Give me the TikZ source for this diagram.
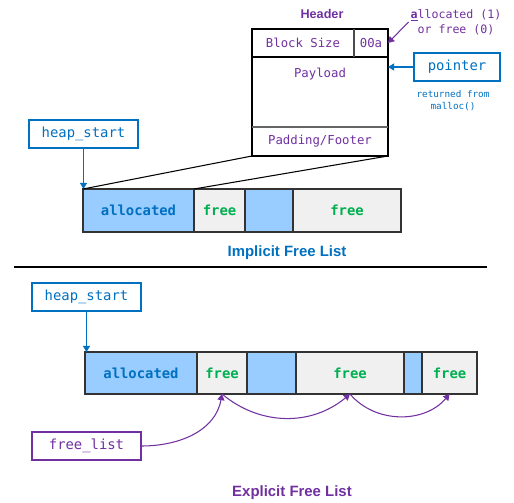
\documentclass[tikz,border=0pt]{standalone}
\usepackage{fontspec}
\setmainfont{Liberation Sans}
\setmonofont{DejaVu Sans Mono}
\usepackage{tikz}
\usetikzlibrary{arrows.meta, positioning}

\definecolor{heappurple}{HTML}{7030A0}
\definecolor{heapblue}{HTML}{0070C0}
\definecolor{usedfill}{HTML}{99CCFF}
\definecolor{freefill}{HTML}{F0F0F0}
\definecolor{freegreen}{HTML}{00B050}

\newcommand{\pxu}{0.02cm}

\tikzset{
  hdrcell/.style={draw=black, line width=0.6pt, inner sep=0pt, outer sep=0pt,
    anchor=north west, font=\ttfamily\fontsize{7}{8}\selectfont, text=heappurple},
  cell/.style={draw=black!80, line width=0.6pt, inner sep=0pt, outer sep=0pt,
    minimum height=43*\pxu, font=\ttfamily\bfseries\fontsize{7.9}{9}\selectfont},
  usedcell/.style={cell, fill=usedfill, text=heapblue},
  freecell/.style={cell, fill=freefill, text=freegreen},
  ptrbox/.style={draw=heapblue, line width=0.6pt, inner sep=0pt,
    minimum width=109*\pxu, minimum height=28*\pxu,
    font=\ttfamily\fontsize{7.9}{9}\selectfont, text=heapblue},
  title/.style={font=\bfseries\fontsize{8.5}{10}\selectfont},
  bluearrow/.style={draw=heapblue, line width=0.6pt, -{Triangle[length=3.5pt, width=4pt]}},
  purplearrow/.style={draw=heappurple, line width=0.6pt, -{Triangle[length=3.5pt, width=4pt]}}
}

\begin{document}
\begin{tikzpicture}[x=0.02cm, y=0.02cm]
\useasboundingbox (0,0) rectangle (514,-503);

% Block layout
\node[font=\bfseries\fontsize{7.2}{8}\selectfont, text=heappurple] (header) at (322,-14) {Header};
\node[hdrcell, minimum width=102*\pxu, minimum height=28*\pxu] (bsize) at (252,-29) {Block Size};
\node[hdrcell, minimum width=34*\pxu, minimum height=28*\pxu] (flag) at (bsize.north east) {00a};
\node[hdrcell, minimum width=136*\pxu, minimum height=70*\pxu,
  label={[anchor=north, yshift=-3pt, font=\ttfamily\fontsize{7}{8}\selectfont, text=heappurple]north:Payload}]
  (payload) at (bsize.south west) {};
\node[hdrcell, minimum width=136*\pxu, minimum height=29*\pxu] (footer) at (payload.south west) {Padding/Footer};
\draw[line width=1.2pt, black!70] (bsize.north east) -- (bsize.south east);
\draw[line width=1.2pt, black!60] (footer.north west) -- (footer.north east);

% Allocation bit
\node[align=center, font=\ttfamily\fontsize{6.6}{8.5}\selectfont, text=heappurple, inner sep=1pt]
  (allocnote) at (456,-22) {\underline{\textbf{a}}llocated (1)\\or free (0)};
\draw[purplearrow] (allocnote.west) -- (flag.east);

% Pointer from malloc
\node[ptrbox, minimum width=86*\pxu] (ptr) at (457,-67) {pointer};
\node[align=center, font=\ttfamily\fontsize{5.3}{6.8}\selectfont, text=heapblue] (retnote) at (453,-101) {returned from\\malloc()};
\draw[bluearrow] (ptr.west) -- (ptr.west -| payload.east);

% Implicit free list
\node[ptrbox] (hs1) at (83.5,-134) {heap\_start};
\node[usedcell, minimum width=111*\pxu, anchor=north west] (ia) at (83,-189) {allocated};
\node[freecell, minimum width=51*\pxu, right=0pt of ia] (if1) {free};
\node[usedcell, minimum width=48*\pxu, right=0pt of if1] (ib) {};
\node[freecell, minimum width=108*\pxu, right=0pt of ib] (if2) {free};
\draw[bluearrow] (hs1.south) -- (hs1.south |- ia.north);
\draw[line width=0.6pt] (ia.north west) -- (footer.south west);
\draw[line width=0.6pt] (ia.north east) -- (footer.south east);
\node[title, text=heapblue] (implicit) at (287,-253) {Implicit Free List};

\draw[line width=1.2pt] (14,-267) -- (487,-267);

% Explicit free list
\node[ptrbox] (hs2) at (86.5,-297) {heap\_start};
\node[usedcell, minimum width=112*\pxu, minimum height=42*\pxu, anchor=north west] (ea) at (85,-352) {allocated};
\node[freecell, minimum width=50*\pxu, minimum height=42*\pxu, right=0pt of ea] (ef1) {free};
\node[usedcell, minimum width=49*\pxu, minimum height=42*\pxu, right=0pt of ef1] (eb1) {};
\node[freecell, minimum width=108*\pxu, minimum height=42*\pxu, right=0pt of eb1] (ef2) {free};
\node[usedcell, minimum width=18*\pxu, minimum height=42*\pxu, right=0pt of ef2] (eb2) {};
\node[freecell, minimum width=55*\pxu, minimum height=42*\pxu, right=0pt of eb2] (ef3) {free};
\draw[bluearrow] (hs2.south) -- (hs2.south |- ea.north);

\node[ptrbox, draw=heappurple, text=heappurple] (flist) at (86.5,-446) {free\_list};
\draw[purplearrow] (flist.east) to[out=0, in=-100] (ef1.south);
\draw[purplearrow] (ef1.south) to[bend right=40] (ef2.south);
\draw[purplearrow] (ef2.south) to[bend right=50] (ef3.south);
\node[title, text=heappurple] (explicit) at (292,-493) {Explicit Free List};
\end{tikzpicture}
\end{document}
